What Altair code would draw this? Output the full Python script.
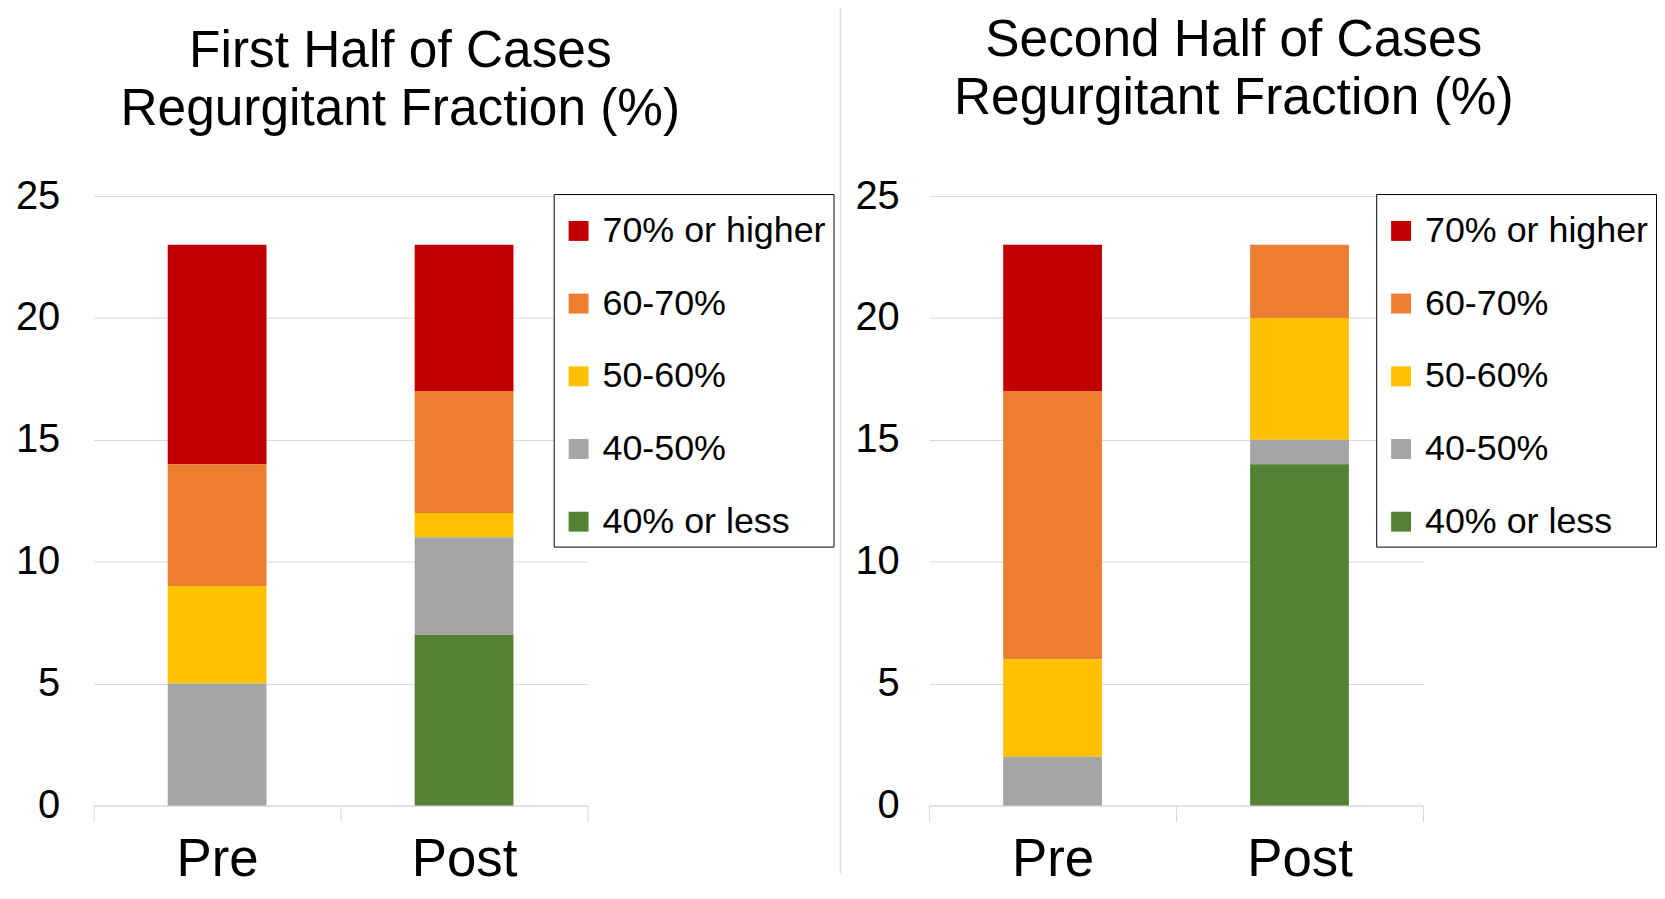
import altair as alt
import pandas as pd

# ---- data ----
categories = ["70% or higher", "60-70%", "50-60%", "40-50%", "40% or less"]
colors = ["#C00000", "#ED7D31", "#FFC000", "#A5A5A5", "#548235"]
stages = ["Pre", "Post"]

first_pre = [9, 5, 4, 5, 0]
first_post = [6, 5, 1, 4, 7]
second_pre = [6, 11, 4, 2, 0]
second_post = [0, 3, 5, 1, 14]

y_ticks = [0, 5, 10, 15, 20, 25]

FONT = "Liberation Sans"
GRID = "#d9d9d9"


def make_df(pre, post):
    rows = []
    for stage, vals in zip(stages, [pre, post]):
        for i, (cat, v) in enumerate(zip(categories, vals)):
            if v > 0:
                rows.append({"stage": stage, "band": cat, "count": v,
                             "rank": len(categories) - 1 - i})
    return pd.DataFrame(rows)


def panel(pre, post, title_lines, t_offset, t_dx, lx, ly, ypad):
    df = make_df(pre, post)
    return alt.Chart(df).mark_bar(width=alt.RelativeBandSize(0.4)).encode(
        x=alt.X("stage:N", sort=stages,
                scale=alt.Scale(paddingInner=0, paddingOuter=0),
                axis=alt.Axis(title=None, labelAngle=0, labelFontSize=53,
                              labelFont=FONT, labelColor="black",
                              domainColor=GRID, tickColor=GRID, tickSize=16,
                              tickBand="extent", labelPadding=12, grid=False)),
        y=alt.Y("count:Q", stack="zero",
                scale=alt.Scale(domain=[0, 25], nice=False),
                axis=alt.Axis(title=None, values=y_ticks, labelFontSize=40,
                              labelFont=FONT, labelColor="black",
                              labelPadding=ypad, domain=False, ticks=False,
                              gridColor=GRID)),
        color=alt.Color("band:N",
                        scale=alt.Scale(domain=categories, range=colors),
                        legend=alt.Legend(title=" ", titleFontSize=8,
                                          titlePadding=4,
                                          orient="none",
                                          legendX=lx, legendY=ly,
                                          symbolType="square", symbolSize=400,
                                          symbolStrokeWidth=0,
                                          labelFontSize=36, labelFont=FONT,
                                          labelColor="black", labelOffset=6,
                                          labelLimit=400, rowPadding=37,
                                          padding=7, strokeColor="black",
                                          fillColor="white")),
        order=alt.Order("rank:Q", sort="ascending"),
    ).properties(
        width=496, height=612,
        title=alt.TitleParams(text=title_lines, fontSize=51.6, font=FONT,
                              fontWeight="normal", color="black",
                              lineHeight=58, anchor="middle", frame="group",
                              dx=t_dx, offset=t_offset),
    )


left = panel(first_pre, first_post,
             ["First Half of Cases", "Regurgitant Fraction (%)"],
             41, 60, 462, -2, 34)
right = panel(second_pre, second_post,
              ["Second Half of Cases", "Regurgitant Fraction (%)"],
              52, 58, 449, -2, 30)

divider = alt.Chart(pd.DataFrame({"d": [0]})).mark_rule(
    color=GRID, strokeWidth=1.5
).encode(
    x=alt.value(0), y=alt.value(-200), y2=alt.value(680)
).properties(width=9, height=612)

chart = alt.hconcat(left, divider, right, spacing=5).resolve_scale(
    color="independent"
).properties(
    padding={"left": 7, "top": -14, "right": 0, "bottom": 0},
    background="white",
).configure_view(strokeOpacity=0)

chart.save("out.html", embed_options={"renderer": "svg", "actions": False})
